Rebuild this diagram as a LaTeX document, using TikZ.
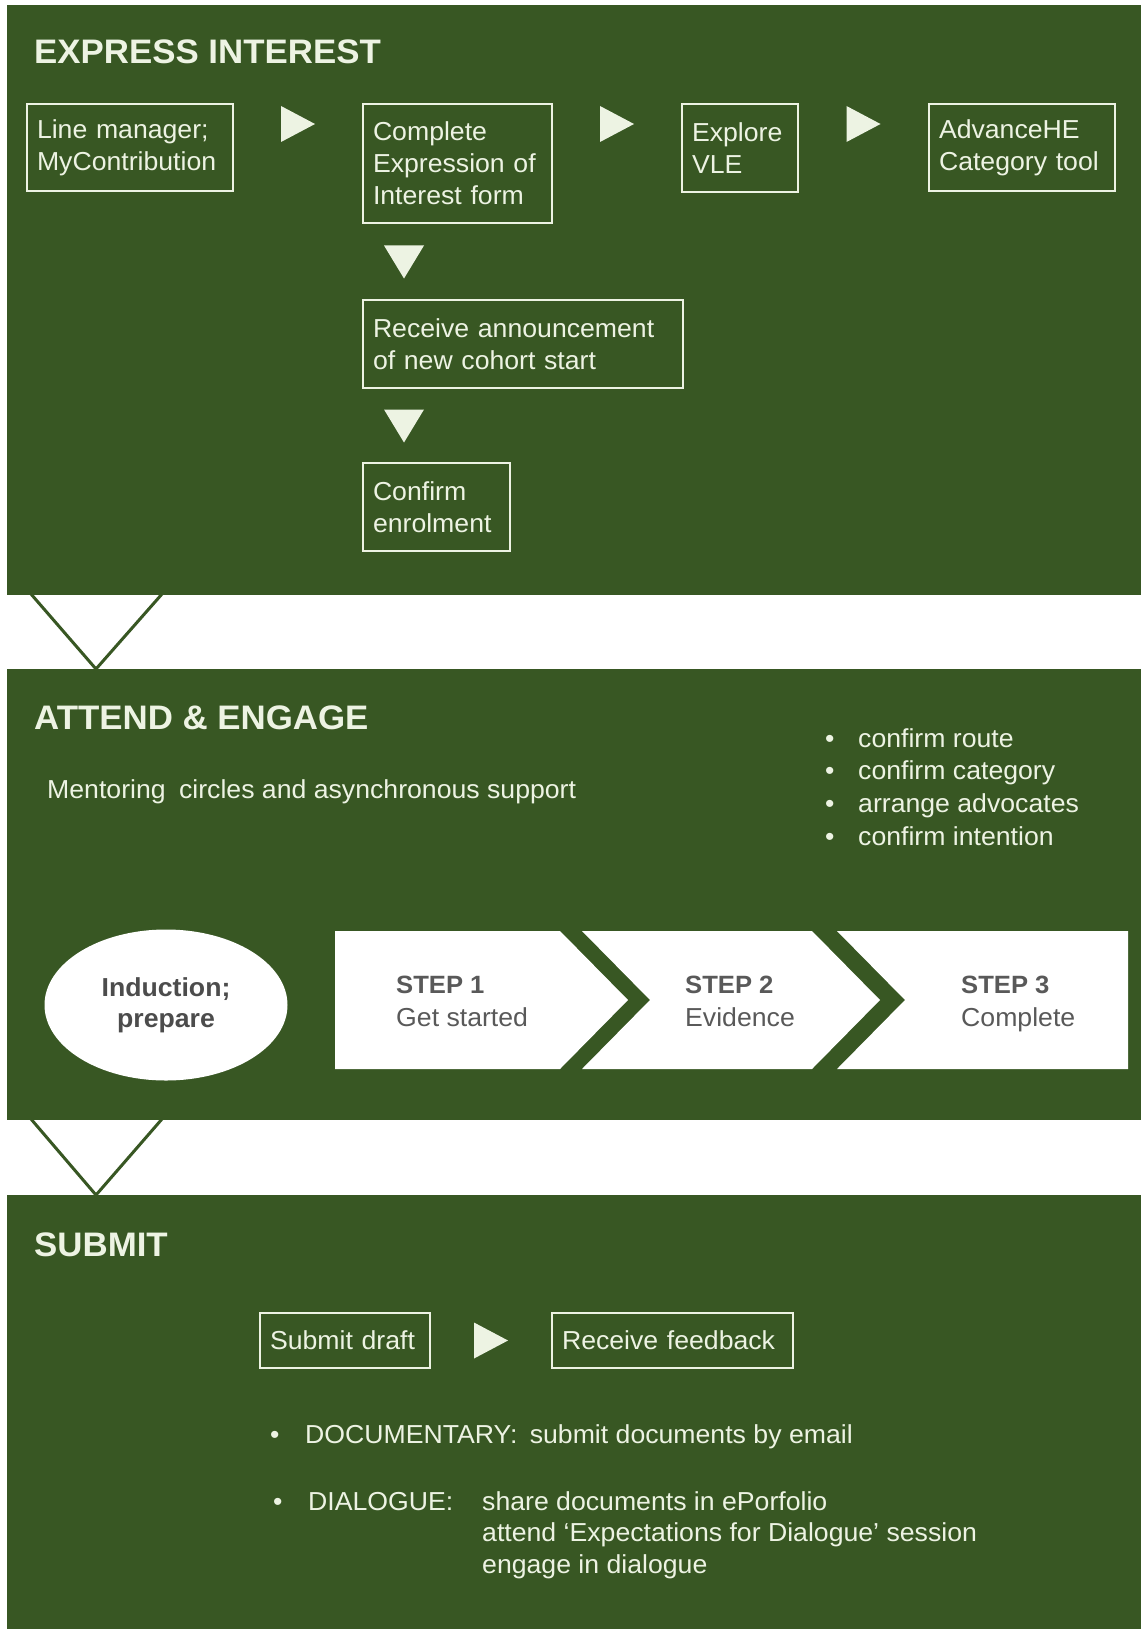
\documentclass[tikz,border=0pt]{standalone}
\usepackage{fontspec}
\setmainfont{Liberation Sans}[FakeStretch=1.025]
\usetikzlibrary{positioning,calc,shapes.geometric}
\definecolor{panelgreen}{HTML}{385723}
\definecolor{paletext}{HTML}{EDF3E3}
\definecolor{stepgray}{HTML}{595959}
\tikzset{
heading/.style={anchor=base west, text=paletext, inner sep=0pt,
  font=\fontsize{34}{40}\selectfont\bfseries},
plain/.style={anchor=base west, text=paletext, inner sep=0pt,
  font=\fontsize{26}{32}\selectfont},
infobox/.style={draw=paletext, line width=1.6pt, text=paletext,
  font=\fontsize{26}{32}\selectfont, align=left, outer sep=0pt,
  inner xsep=10pt, inner ysep=0pt},
steptext/.style={anchor=base west, text=stepgray, inner sep=0pt,
  font=\fontsize{26}{32}\selectfont},
rtri/.pic={\fill[paletext] (-17,-18) -- (-17,18) -- (17,0) -- cycle;},
dtri/.pic={\fill[paletext] (-20,-16) -- (20,-16) -- (0,17) -- cycle;},
}

\begin{document}
\begin{tikzpicture}[x=1pt,y=-1pt]
\useasboundingbox[fill=white] (0,0) rectangle (1141,1629);
% the three panels
\fill[panelgreen] (7,5) rectangle (1141,595);
\fill[panelgreen] (7,669) rectangle (1141,1120);
\fill[panelgreen] (7,1195) rectangle (1141,1629);
\draw[panelgreen, line width=3pt] (31,594) -- (96,669) -- (162,594);
\draw[panelgreen, line width=3pt] (31,1119) -- (96,1195) -- (162,1119);

% express interest
\node[heading] (express) at (34,64) {EXPRESS INTEREST};
\node[infobox, anchor=north west, text width=186pt, minimum height=87pt]
  (manager) at (27,104) {Line manager;\\MyContribution};
\node[infobox, right=130pt of manager.north east, anchor=north west,
  text width=169pt, minimum height=119pt]
  (eoiform) {Complete\\Expression of\\Interest form};
\node[infobox, right=130pt of eoiform.north east, anchor=north west,
  text width=96pt, minimum height=88pt]
  (vle) {Explore\\VLE};
\node[infobox, right=131pt of vle.north east, anchor=north west,
  text width=166pt, minimum height=87pt]
  (cattool) {AdvanceHE\\Category tool};
\node[infobox, below=77pt of eoiform.south west, anchor=north west,
  text width=300pt, minimum height=88pt]
  (cohort) {Receive announcement\\of new cohort start};
\node[infobox, below=75pt of cohort.south west, anchor=north west,
  text width=127pt, minimum height=88pt]
  (enrol) {Confirm\\enrolment};
% the arrows
\pic at ($(manager.north east)!.5!(eoiform.north west)+(0,20)$) {rtri};
\pic at ($(eoiform.north east)!.5!(vle.north west)+(0,20)$) {rtri};
\pic at ($(vle.north east)!.5!(cattool.north west)+(0,20)$) {rtri};
\pic at ($(eoiform.south west)!.5!(cohort.north west)+(41,0)$) {dtri};
\pic at ($(cohort.south west)!.5!(enrol.north west)+(41,0)$) {dtri};

% attend & engage
\node[heading] (attend) at (34,729) {ATTEND \& ENGAGE};
\node[plain] (mentor) at (47,798) {Mentoring\hspace{6pt} circles and asynchronous support};
\foreach \t [count=\i] in {confirm route, confirm category,
  arrange advocates, confirm intention}
{
  \node[plain] (dot\i) at (825,{747+32.7*(\i-1)}) {\textbullet};
  \node[plain] (todo\i) at (858,{747+32.7*(\i-1)}) {\t};
}
\node[ellipse, fill=white, minimum width=243pt, minimum height=151pt,
  align=center, text=stepgray!85!black, inner sep=0pt,
  font=\fontsize{26}{31}\selectfont\bfseries]
  (induct) at (166,1005) {Induction;\\prepare};
% the step chevrons
\fill[white] (335,931) -- (560,931) -- (628,1000) -- (560,1069) -- (335,1069) -- cycle;
\fill[white] (582,931) -- (812,931) -- (880,1000) -- (812,1069) -- (582,1069)
  -- (650,1000) -- cycle;
\fill[white] (837,931) -- (1128,931) -- (1128,1069) -- (837,1069) -- (905,1000) -- cycle;
\foreach \x/\n/\t in {396/1/Get started, 685/2/Evidence, 961/3/Complete}
{
  \node[steptext, font=\fontsize{25}{32}\selectfont\bfseries] (step\n) at (\x,993) {STEP \n};
  \node[steptext] (stepsub\n) at (\x,1026) {\t};
}

% submit
\node[heading] (submit) at (34,1256) {SUBMIT};
\node[infobox, anchor=north west, text width=150pt, minimum height=55pt]
  (draft) at (260,1313) {Submit draft};
\node[infobox, right=122pt of draft.north east, anchor=north west,
  text width=221pt, minimum height=55pt]
  (feedback) {Receive feedback};
\pic at ($(draft.east)!.5!(feedback.west)$) {rtri};
\node[plain] (docdot) at (270,1443) {\textbullet};
\node[plain] (documentary) at (305,1443) {DOCUMENTARY:\hspace{5pt} submit documents by email};
\node[plain] (dialdot) at (273,1510) {\textbullet};
\node[plain] (dialogue) at (308,1510) {DIALOGUE:};
\foreach \t [count=\i] in {share documents in ePorfolio,
  attend ‘Expectations for Dialogue’ session, engage in dialogue}
{
  \node[plain] (dial\i) at (482,{1510+31.5*(\i-1)}) {\t};
}
\end{tikzpicture}
\end{document}
